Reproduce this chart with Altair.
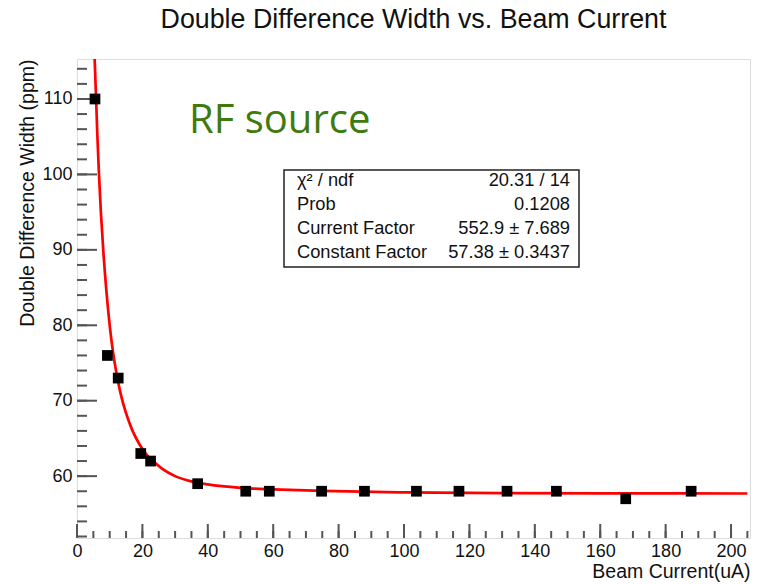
import altair as alt
import pandas as pd

# ---- data ----
beam_current = [5.5, 9.3, 12.6, 19.5, 22.5, 36.9, 51.6, 58.8, 74.8, 87.9,
                103.8, 116.8, 131.5, 146.6, 167.8, 187.8]
dd_width = [110, 76, 73, 63, 62, 59, 58, 58, 58, 58, 58, 58, 58, 58, 57, 58]

fit_x = [5.4, 5.8, 6.2, 6.7, 7.3, 8.1, 9.0, 10.0, 11.0, 12.0, 13.0, 14.0,
         15.5, 17.0, 19.0, 21.0, 23.5, 26.0, 30.0, 35.0, 40.0, 50.0, 60.0,
         75.0, 100.0, 130.0, 160.0, 205.0]
fit_y = [115.3, 110.5, 105.5, 100.2, 95.0, 89.5, 84.5, 80.0, 76.5, 73.8,
         71.6, 69.8, 67.7, 66.0, 64.3, 63.0, 61.9, 61.0, 60.0, 59.3, 58.9,
         58.45, 58.25, 58.05, 57.85, 57.75, 57.72, 57.7]

x_major = [0, 20, 40, 60, 80, 100, 120, 140, 160, 180, 200]
x_minor = list(range(0, 206, 5))
y_major = [60, 70, 80, 90, 100, 110]
y_minor = list(range(52, 116, 2))

stats_labels = ["χ² / ndf", "Prob", "Current Factor", "Constant Factor"]
stats_values = ["20.31 / 14", "0.1208", "552.9 ± 7.689", "57.38 ± 0.3437"]

chart_title = "Double Difference Width vs. Beam Current"
x_title = "Beam Current(uA)"
y_title = "Double Difference Width (ppm)"
annotation = "RF source"

# ---- layout ----
W, H = 673, 479
FONT = "Liberation Sans"
AXC = "#555555"

x_scale = alt.Scale(domain=[0, 205.8], nice=False, zero=False)
y_scale = alt.Scale(domain=[51.8, 115.3], nice=False, zero=False)

pts = pd.DataFrame({"current": beam_current, "width": dd_width})
fit = pd.DataFrame({"current": fit_x, "width": fit_y})

x_axis = alt.Axis(values=x_major, format="d", domain=False, ticks=False, grid=False,
                  labelFont=FONT, labelFontSize=18, labelColor="#111", labelPadding=4,
                  labelFlush=False, labelOverlap=False,
                  title=x_title, titleFont=FONT, titleFontSize=19.5, titleFontWeight="normal",
                  titleColor="#111", titleAnchor="end", titlePadding=2)
y_axis = alt.Axis(values=y_major, format="d", domain=False, ticks=False, grid=False,
                  labelFont=FONT, labelFontSize=18, labelColor="#111", labelPadding=5,
                  labelOverlap=False,
                  title=y_title, titleFont=FONT, titleFontSize=19.5, titleFontWeight="normal",
                  titleColor="#111", titleAnchor="end", titlePadding=4)

X = lambda f: alt.X(f, scale=x_scale, axis=x_axis)
Y = lambda f: alt.Y(f, scale=y_scale, axis=y_axis)

# tick marks drawn inward
xminor = alt.Chart(pd.DataFrame({"v": x_minor})).mark_rule(color=AXC, strokeWidth=2).encode(
    x=X("v:Q"), y=alt.value(H), y2=alt.value(H - 7))
xmajor = alt.Chart(pd.DataFrame({"v": x_major})).mark_rule(color=AXC, strokeWidth=2).encode(
    x=X("v:Q"), y=alt.value(H), y2=alt.value(H - 14))
yminor = alt.Chart(pd.DataFrame({"v": y_minor})).mark_rule(color=AXC, strokeWidth=2).encode(
    y=Y("v:Q"), x=alt.value(0), x2=alt.value(10))
ymajor = alt.Chart(pd.DataFrame({"v": y_major})).mark_rule(color=AXC, strokeWidth=2).encode(
    y=Y("v:Q"), x=alt.value(0), x2=alt.value(20))

line = alt.Chart(fit).mark_line(color="#ff0000", strokeWidth=2.7, clip=True,
                                interpolate="monotone").encode(
    x=X("current:Q"), y=Y("width:Q"))

points = alt.Chart(pts).mark_square(size=115, color="black", opacity=1).encode(
    x=X("current:Q"), y=Y("width:Q"))

one = pd.DataFrame({"a": [0]})
box = alt.Chart(one).mark_rect(fill="white", stroke="#222", strokeWidth=1.5).encode(
    x=alt.value(207), x2=alt.value(502), y=alt.value(111), y2=alt.value(208))

row_y = [122, 146, 170, 194]
stat_layers = []
for i in range(len(stats_labels)):
    stat_layers.append(alt.Chart(one).mark_text(
        font=FONT, fontSize=18.3, color="#111", align="left", baseline="middle",
        text=stats_labels[i]).encode(x=alt.value(220), y=alt.value(row_y[i])))
    stat_layers.append(alt.Chart(one).mark_text(
        font=FONT, fontSize=18.3, color="#111", align="right", baseline="middle",
        text=stats_values[i]).encode(x=alt.value(493), y=alt.value(row_y[i])))

rf = alt.Chart(one).mark_text(font="Open Sans", fontSize=40, color="#3F7A0F",
                              align="left", baseline="alphabetic", text=annotation).encode(
    x=alt.value(112), y=alt.value(74))

title = alt.Chart(one).mark_text(font=FONT, fontSize=26.8, color="#111", align="center",
                                 baseline="alphabetic", text=chart_title).encode(
    x=alt.value(W / 2), y=alt.value(-31))

chart = alt.layer(xminor, xmajor, yminor, ymajor, line, points, box, *stat_layers, rf, title).properties(
    width=W, height=H,
    autosize=alt.AutoSizeParams(type="none"),
    padding={"left": 77, "top": 59, "right": 9, "bottom": 46},
).configure_view(stroke=AXC, strokeWidth=2).configure(background="white")

chart.save("out.html", embed_options={"renderer": "svg", "actions": False})
